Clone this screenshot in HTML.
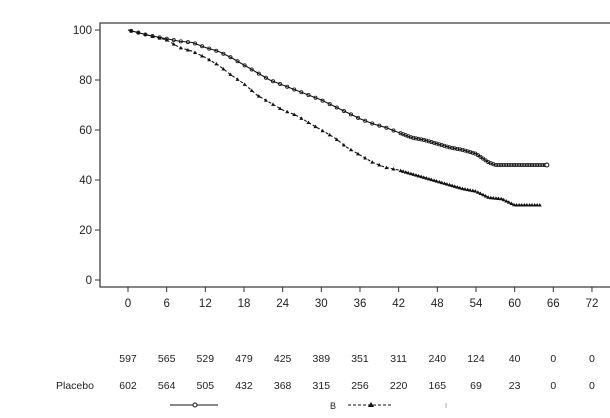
<!DOCTYPE html>
<html><head><meta charset="utf-8"><style>
body{margin:0;background:#fff;}
svg{display:block;font-family:"Liberation Sans",sans-serif;}
</style></head><body>
<svg id="s" width="610" height="418" viewBox="0 0 610 418" xmlns="http://www.w3.org/2000/svg">
<rect x="100" y="23" width="520" height="264" fill="none" stroke="#333" stroke-width="1.2"/>
<g id="g" fill="#222" font-size="11.5"></g>
</svg>
<script>
const g=document.getElementById('g');
const NS='http://www.w3.org/2000/svg';
function el(t,a,txt){const e=document.createElementNS(NS,t);for(const k in a)e.setAttribute(k,a[k]);if(txt!=null)e.textContent=txt;g.appendChild(e);return e;}
const X=m=>128+m*6.444, Y=p=>280-p*2.5;
for(let p=0;p<=100;p+=20){el('line',{x1:95,x2:100,y1:Y(p),y2:Y(p),stroke:'#333'});el('text',{x:92,y:Y(p)+4,'text-anchor':'end'},p);}
for(let m=0;m<=72;m+=6){el('line',{x1:X(m),x2:X(m),y1:287,y2:292,stroke:'#333'});el('text',{x:X(m),y:307,'text-anchor':'middle'},m);}
const a=[597,565,529,479,425,389,351,311,240,124,40,0,0],b=[602,564,505,432,368,315,256,220,165,69,23,0,0];
a.forEach((v,i)=>el('text',{x:X(i*6),y:362,'text-anchor':'middle','font-size':'10.5'},v));
b.forEach((v,i)=>el('text',{x:X(i*6),y:389,'text-anchor':'middle','font-size':'10.5'},v));
el('text',{x:56,y:389,'font-size':'10.5'},'Placebo');
const T=[[0,100],[3,98],[6,96.5],[8,95.5],[10,95],[12,93],[14,91.5],[16,89],[18,86],[20,83],[22,80],[24,78],[26,76],[28,74],[30,72],[32,69.5],[34,67],[36,64.5],[38,62.5],[40,61],[42,59],[44,57],[46,56],[48,54.5],[50,53],[52,52],[54,50.5],[56,47],[57,46],[65,46]];
const P=[[0,100],[3,98],[6,96],[8,93],[10,91.5],[12,89],[14,86],[16,82],[18,78.5],[20,74],[22,71],[24,68],[26,66],[28,63],[30,60],[32,57],[34,53],[36,50],[38,47],[40,45],[42,44],[44,42.5],[46,41],[48,39.5],[50,38],[52,36.5],[54,35.5],[56,33],[58,32.5],[60,30],[64,30]];
function step(d){let s='M'+X(d[0][0])+','+Y(d[0][1]);for(let i=1;i<d.length;i++){s+=' L'+X(d[i][0])+','+Y(d[i-1][1])+' L'+X(d[i][0])+','+Y(d[i][1]);}return s;}
function lin(d){return 'M'+d.map(q=>X(q[0])+','+Y(q[1])).join(' L');}
el('path',{d:lin(T),fill:'none',stroke:'#111','stroke-width':1.1});
el('path',{d:lin(P),fill:'none',stroke:'#111','stroke-width':1.1,'stroke-dasharray':'3,2'});
function interp(d,m){for(let i=1;i<d.length;i++){if(m<=d[i][0]){const t=(m-d[i-1][0])/(d[i][0]-d[i-1][0]);return d[i-1][1]+t*(d[i][1]-d[i-1][1]);}}return d[d.length-1][1];}
for(let m=0.5;m<=65;m+=(m>42?0.4:1.1)){el('circle',{cx:X(m),cy:Y(interp(T,m)),r:1.6,fill:'none',stroke:'#111','stroke-width':0.8});}
for(let m=0.5;m<=64;m+=(m>42?0.4:1.1)){const x=X(m),y=Y(interp(P,m));el('path',{d:`M${x-2},${y+1.5} L${x+2},${y+1.5} L${x},${y-2} Z`,fill:'#111'});}
el('circle',{cx:X(65),cy:Y(46),r:2,fill:'#fff',stroke:'#111'});
el('line',{x1:170,x2:218,y1:405,y2:405,stroke:'#111'});
el('circle',{cx:195,cy:405,r:2,fill:'#fff',stroke:'#111'});
el('text',{x:330,y:409,'font-size':'9'},'B');
el('line',{x1:348,x2:392,y1:405,y2:405,stroke:'#111','stroke-dasharray':'3,2'});
el('path',{d:'M368,407 L374,407 L371,402 Z',fill:'#111'});
el('line',{x1:446,x2:446,y1:403,y2:408,stroke:'#aaa'});
</script>
</body></html>
